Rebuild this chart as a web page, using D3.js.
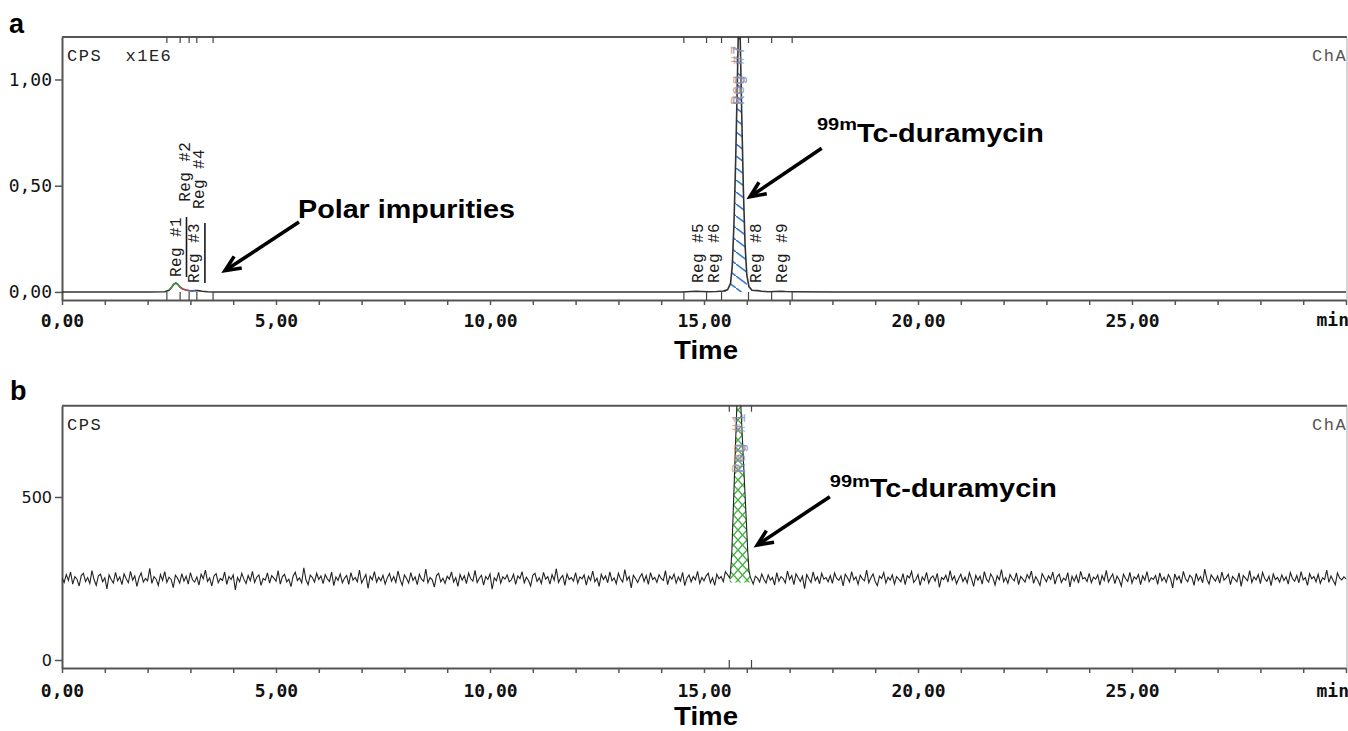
<!DOCTYPE html>
<html lang="en">
<head>
<meta charset="utf-8">
<title>Radio-HPLC chromatograms</title>
<script src="https://d3js.org/d3.v7.min.js"></script>
<style>
  body { margin: 0; background: #fff; }
  svg { display: block; }
</style>
</head>
<body>
<svg width="1348" height="731"></svg>
<script>
// ---- panel a: trace (retention time in min, CPS x1E6) ----
const timeA = [0, 1.0, 2.0, 2.40, 2.50, 2.56, 2.61, 2.66, 2.71, 2.76, 2.82, 2.90, 2.97, 3.05, 3.12, 3.18,
               3.27, 3.40, 3.55, 4.5, 6, 8, 10, 12, 13.5, 14.5, 14.8, 14.95, 15.1, 15.3, 15.45, 15.55,
               15.62, 15.66, 15.70, 15.74, 15.78, 15.81, 15.84, 15.88, 15.92, 15.96, 16.00, 16.05, 16.12,
               16.25, 16.35, 16.5, 16.8, 16.9, 17.1, 18, 20, 22, 24, 26, 28, 30];
const cpsA  = [0, 0, 0, 0.001, 0.008, 0.022, 0.036, 0.042, 0.035, 0.022, 0.014, 0.009, 0.006, 0.005, 0.007, 0.006,
               0.003, 0.001, 0, 0, 0, 0, 0, 0, 0, 0, 0.003, 0.002, 0.001, 0.002, 0.004, 0.010,
               0.04, 0.12, 0.32, 0.62, 1.0, 1.3, 1.25, 0.85, 0.48, 0.22, 0.08, 0.025, 0.008,
               0.006, 0.003, 0.001, 0.003, 0.002, 0.001, 0, 0, 0, 0, 0, 0, 0];

// integration regions, panel a
const regNamesA = ["Reg #1", "Reg #2", "Reg #3", "Reg #4", "Reg #5", "Reg #6", "Reg #7", "Reg #8", "Reg #9"];
const regStartA = [2.45, 2.76, 2.97, 3.15, 14.53, 15.06, 15.41, 16.04, 16.58];
const regEndA   = [2.76, 2.97, 3.15, 3.53, 15.06, 15.41, 16.04, 16.58, 17.06];
const regApexA  = [2.68, 2.90, 3.11, 3.22, 14.88, 15.26, 15.82, 16.23, 16.84];

// ---- panel b: baseline noise (CPS, one reading every 0.05 min from 0 to 30 min) ----
const noiseB = [
  251,238,262,244,270,233,256,248,227,259,266,241,253,235,274,246,229,258,263,240,252,218,261,247,236,269,243,255,231,264,
  249,237,272,245,258,226,253,267,239,250,243,281,235,256,248,229,262,244,271,238,254,247,222,260,251,236,265,242,257,233,
  268,246,239,255,230,263,249,276,241,252,227,258,265,237,250,244,270,232,256,247,261,215,253,240,266,248,235,259,243,272,
  238,254,261,229,250,245,267,236,259,251,242,274,233,256,263,240,248,225,257,269,244,252,237,283,246,231,260,253,239,266,
  247,258,234,262,249,241,270,228,255,244,264,237,251,259,232,268,245,253,240,276,236,249,262,220,257,246,271,239,254,243,
  260,233,252,265,242,256,238,273,247,229,261,250,236,268,244,255,231,263,248,241,279,237,253,246,224,259,266,240,251,235,
  257,248,270,239,253,226,262,245,258,234,267,249,242,275,238,251,260,230,256,247,264,217,252,243,269,236,255,248,261,240,
  246,263,232,258,250,271,237,254,244,227,260,266,241,252,235,269,248,256,233,262,245,280,238,251,259,229,264,247,253,242,
  268,236,255,249,261,230,257,244,273,240,251,226,263,247,258,237,270,243,252,234,266,249,239,277,245,256,221,260,250,238,
  254,265,241,259,232,268,247,253,238,262,250,244,274,231,257,248,264,236,255,242,269,228,251,261,240,256,246,272,235,253,
  243,258,266,237,252,229,263,249,256,240,271,234,250,262,245,225,259,247,267,238,254,244,278,233,257,251,239,264,248,236,
  261,245,253,230,268,242,256,250,236,273,247,259,231,264,252,241,257,219,262,249,238,270,244,255,234,266,248,253,240,259,
  235,267,250,244,258,227,263,253,239,271,246,255,232,260,249,243,276,237,252,264,241,228,257,250,268,236,254,245,261,233,
  256,248,240,265,231,259,252,272,238,247,262,229,255,244,269,236,251,258,242,266,223,253,247,260,239,274,245,257,234,250,
  263,241,254,236,268,249,226,260,245,257,233,271,248,239,264,252,230,258,246,277,240,253,235,262,250,243,267,231,256,248,
  239,262,250,273,235,256,244,229,265,252,240,258,247,270,233,255,263,238,251,245,268,224,257,242,260,236,272,249,253,241,
  266,237,254,248,261,230,259,244,275,239,252,264,234,257,246,227,263,250,241,269,236,255,248,262,231,258,245,271,240,252,
  247,259,232,267,243,254,238,262,250,221,264,246,257,235,272,249,240,260,253,229,266,244,256,237,279,248,233,261,251,242,
  258,236,270,245,252,263,231,256,248,240,267,226,259,251,243,274,238,255,246,262,234,269,250,241,257,228,264,247,253,239,
  261,244,255,233,268,250,242,259,237,271,246,253,229,265,249,256,240,263,235,252,247,276,238,258,244,231,267,252,246,255,
  249];
// panel b: the 99mTc-duramycin peak
const peakTimeB = [15.60, 15.62, 15.65, 15.68, 15.71, 15.74, 15.77, 15.80, 15.83, 15.86, 15.90, 15.94, 15.98, 16.02, 16.05, 16.08];
const peakCpsB  = [252, 268, 330, 445, 560, 675, 790, 880, 870, 780, 670, 560, 450, 340, 275, 255];
const regNameB = "Reg #1", regStartB = 15.59, regEndB = 16.11, regApexB = 15.84;

// axis ticks
const yTicksA = [0, 0.5, 1];
const yTicksB = [0, 500];
const xLabelled = [0, 5, 10, 15, 20, 25];

// ---- layout ----
const svg = d3.select("svg");
const W = 1348, H = 731;
const x = d3.scaleLinear().domain([0, 30]).range([62, 1346]);
const yA = d3.scaleLinear().domain([-0.038, 1.2]).range([300, 37]);
const yB = d3.scaleLinear().domain([-24.5, 780]).range([668, 405.7]);
const plotL = 62, plotR = 1347;
const labelLiftA = [0.070, 0.425, 0.042, 0.390, 0.042, 0.042, 0.880, 0.042, 0.042];
const underlineA = [true, false, true, false, false, false, false, false, false];
const sans = "'Liberation Sans', Arial, sans-serif";
const mono = "'Liberation Mono', monospace";

svg.append("rect").attr("width", W).attr("height", H).attr("fill", "#fff");

const defs = svg.append("defs");
defs.append("pattern").attr("id", "hatchBlue").attr("patternUnits", "userSpaceOnUse")
    .attr("width", 16).attr("height", 12)
  .append("path").attr("d", "M-1,-0.75 L17,12.75").attr("stroke", "#3a78cf").attr("stroke-width", 1.6);
const cross = defs.append("pattern").attr("id", "crossGreen").attr("patternUnits", "userSpaceOnUse")
    .attr("width", 9).attr("height", 10);
cross.append("path").attr("d", "M0,0 L9,10 M9,0 L0,10").attr("stroke", "#45b045").attr("stroke-width", 1.4);

[["clipA", yA], ["clipB", yB]].forEach(([id, y]) => {
  defs.append("clipPath").attr("id", id).append("rect")
      .attr("x", plotL).attr("y", y.range()[1])
      .attr("width", plotR - plotL).attr("height", y.range()[0] - y.range()[1]);
});

const fmt = d => d.toFixed(2).replace(".", ",");
const line = y => d3.line().x(d => x(d[0])).y(d => y(d[1]));

function frame(y) {
  const top = y.range()[1], bottom = y.range()[0];
  svg.append("line").attr("x1", plotL).attr("x2", plotR).attr("y1", top).attr("y2", top)
     .attr("stroke", "#555").attr("stroke-width", 2);
  svg.append("line").attr("x1", plotR).attr("x2", plotR).attr("y1", top).attr("y2", bottom)
     .attr("stroke", "#aaa").attr("stroke-width", 1);

  const gx = svg.append("g").attr("transform", `translate(0,${bottom})`)
    .call(d3.axisBottom(x).tickValues(d3.range(0, 31)).tickSize(5).tickSizeOuter(0).tickPadding(y === yA ? 9 : 11)
      .tickFormat(d => xLabelled.includes(d) ? fmt(d) : ""));
  gx.attr("font-family", "'DejaVu Sans Mono', monospace").attr("font-size", 18).attr("font-weight", "bold");
  gx.select(".domain").attr("stroke", "#555").attr("stroke-width", 2);
  gx.selectAll(".tick line").attr("stroke", "#555").attr("stroke-width", 1.5);
  gx.selectAll(".tick text").attr("fill", "#111");
  gx.append("text").attr("x", 1349).attr("y", y === yA ? 26 : 29).attr("text-anchor", "end")
    .attr("fill", "#111").text("min");

  svg.append("text").attr("x", x(15) + 2).attr("y", bottom + (y === yA ? 59 : 57))
     .attr("text-anchor", "middle").attr("font-family", sans).attr("font-weight", "bold")
     .attr("font-size", 26).attr("textLength", 64).attr("lengthAdjust", "spacingAndGlyphs")
     .attr("fill", "#000").text("Time");

  // CPS caption and channel name
  svg.append("text").attr("x", 67).attr("y", top + 24).attr("font-family", mono).attr("font-size", 17)
     .attr("letter-spacing", 1.5).attr("fill", "#222").style("white-space", "pre")
     .text(y === yA ? "CPS  x1E6" : "CPS");
  svg.append("text").attr("x", 1312).attr("y", top + 24).attr("font-family", mono).attr("font-size", 17)
     .attr("letter-spacing", 1.5).attr("fill", "#555").text("ChA");
}

function rotLabel(t, v, y, text, color, underline) {
  const px = x(t), py = y(v);
  const tx = svg.append("text").attr("transform", `translate(${px},${py}) rotate(-90)`)
    .attr("font-family", mono).attr("font-size", 16).attr("letter-spacing", 0.4)
    .attr("dominant-baseline", "central").attr("fill", color).text(text);
  if (underline) tx.attr("text-decoration", "underline");
  return tx;
}

function arrow(t1, v1, t2, v2, y) {
  const x1 = x(t1), y1 = y(v1), x2 = x(t2), y2 = y(v2);
  const a = Math.atan2(y2 - y1, x2 - x1), L = 17, s = 0.42;
  svg.append("line").attr("x1", x1).attr("y1", y1).attr("x2", x2 - 3 * Math.cos(a)).attr("y2", y2 - 3 * Math.sin(a))
     .attr("stroke", "#000").attr("stroke-width", 3.6);
  svg.append("path")
     .attr("d", `M${x2 - L * Math.cos(a - s)},${y2 - L * Math.sin(a - s)} L${x2},${y2} L${x2 - L * Math.cos(a + s)},${y2 - L * Math.sin(a + s)}`)
     .attr("fill", "none").attr("stroke", "#000").attr("stroke-width", 3.6).attr("stroke-linejoin", "miter");
}

function compound(tSup, vSup, vMain, y) {
  const xs = x(tSup);
  svg.append("text").attr("x", xs).attr("y", y(vSup)).attr("font-family", sans).attr("font-weight", "bold")
     .attr("font-size", 16).attr("textLength", 40).attr("lengthAdjust", "spacingAndGlyphs").text("99m");
  svg.append("text").attr("x", xs + 40).attr("y", y(vMain)).attr("font-family", sans).attr("font-weight", "bold")
     .attr("font-size", 26).attr("textLength", 187).attr("lengthAdjust", "spacingAndGlyphs").text("Tc-duramycin");
}

// ================= panel a =================
svg.append("text").attr("x", 9).attr("y", 33).attr("font-family", sans).attr("font-weight", "bold")
   .attr("font-size", 27).text("a");
frame(yA);

const gyA = svg.append("g").attr("transform", `translate(${plotL},0)`)
  .call(d3.axisLeft(yA).tickValues(yTicksA).tickSize(7).tickSizeOuter(0).tickPadding(3).tickFormat(fmt));
gyA.attr("font-family", "'DejaVu Sans Mono', monospace").attr("font-size", 18);
gyA.select(".domain").attr("stroke", "#555").attr("stroke-width", 2);
gyA.selectAll(".tick line").attr("stroke", "#555").attr("stroke-width", 1.5);
gyA.selectAll(".tick text").attr("fill", "#111");

const traceA = timeA.map((t, i) => [t, cpsA[i]]);
const plotA = svg.append("g").attr("clip-path", "url(#clipA)");

// Reg #7 hatched area
const reg7 = traceA.filter(d => d[0] >= regStartA[6] && d[0] <= regEndA[6]);
plotA.append("path").datum(reg7)
  .attr("d", d3.area().x(d => x(d[0])).y0(yA(0)).y1(d => yA(d[1])))
  .attr("fill", "url(#hatchBlue)");

plotA.append("path").datum(traceA).attr("d", line(yA))
  .attr("fill", "none").attr("stroke", "#333").attr("stroke-width", 1.6);

// coloured outline of the small region peaks
[[0, "#3a9a3a"], [1, "#c85050"], [2, "#3a6fcf"]].forEach(([i, c]) => {
  const seg = traceA.filter(d => d[0] >= regStartA[i] && d[0] <= regEndA[i]);
  plotA.append("path").datum(seg).attr("d", line(yA)).attr("fill", "none")
    .attr("stroke", c).attr("stroke-width", 1.3);
});

// region boundaries
const edgesA = Array.from(new Set(regStartA.concat(regEndA))).sort((a, b) => a - b);
svg.selectAll(".edgeA").data(edgesA).join("line")
  .attr("x1", d => x(d)).attr("x2", d => x(d)).attr("y1", yA(0)).attr("y2", yA.range()[0])
  .attr("stroke", "#444").attr("stroke-width", 1.2);
svg.selectAll(".edgeTopA").data(edgesA).join("line")
  .attr("x1", d => x(d)).attr("x2", d => x(d)).attr("y1", yA.range()[1]).attr("y2", yA.range()[1] + 6)
  .attr("stroke", "#444").attr("stroke-width", 1.2);

regNamesA.forEach((name, i) => {
  if (i === 6) {
    rotLabel(regApexA[i] - 0.02, labelLiftA[i], yA, name, "#d8915e", false).attr("opacity", 0.8);
    rotLabel(regApexA[i] + 0.02, labelLiftA[i], yA, name, "#6b8fd2", false).attr("opacity", 0.8);
  } else {
    rotLabel(regApexA[i], labelLiftA[i], yA, name, "#1a1a1a", underlineA[i]);
  }
});

svg.append("text").attr("x", x(5.514)).attr("y", yA(0.348)).attr("font-family", sans).attr("font-weight", "bold")
   .attr("font-size", 26).attr("textLength", 217).attr("lengthAdjust", "spacingAndGlyphs").text("Polar impurities");
arrow(5.537, 0.329, 3.808, 0.100, yA);
compound(17.64, 0.760, 0.707, yA);
arrow(17.75, 0.676, 16.075, 0.448, yA);

// ================= panel b =================
svg.append("text").attr("x", 10).attr("y", 400).attr("font-family", sans).attr("font-weight", "bold")
   .attr("font-size", 27).text("b");
frame(yB);

const gyB = svg.append("g").attr("transform", `translate(${plotL},0)`)
  .call(d3.axisLeft(yB).tickValues(yTicksB).tickSize(7).tickSizeOuter(0).tickPadding(3).tickFormat(d3.format("d")));
gyB.attr("font-family", "'DejaVu Sans', sans-serif").attr("font-size", 16);
gyB.select(".domain").attr("stroke", "#555").attr("stroke-width", 2);
gyB.selectAll(".tick line").attr("stroke", "#555").attr("stroke-width", 1.5);
gyB.selectAll(".tick text").attr("fill", "#111");

const traceB = noiseB.map((v, i) => [i / 20, v])
  .filter(d => d[0] < 15.55 || d[0] > 16.12)
  .concat(peakTimeB.map((t, i) => [t, peakCpsB[i]]))
  .sort((a, b) => a[0] - b[0]);
const plotB = svg.append("g").attr("clip-path", "url(#clipB)");

const regB = traceB.filter(d => d[0] >= regStartB && d[0] <= regEndB);
plotB.append("path").datum(regB)
  .attr("d", d3.area().x(d => x(d[0])).y0(yB(238)).y1(d => yB(d[1])))
  .attr("fill", "url(#crossGreen)");
plotB.append("path").datum(traceB).attr("d", line(yB))
  .attr("fill", "none").attr("stroke", "#222").attr("stroke-width", 1.1);

[regStartB, regEndB].forEach(t => {
  svg.append("line").attr("x1", x(t)).attr("x2", x(t)).attr("y1", yB(0)).attr("y2", yB.range()[0])
     .attr("stroke", "#444").attr("stroke-width", 1.2);
  svg.append("line").attr("x1", x(t)).attr("x2", x(t)).attr("y1", yB.range()[1]).attr("y2", yB.range()[1] + 6)
     .attr("stroke", "#444").attr("stroke-width", 1.2);
});
rotLabel(regApexB - 0.02, 573.6, yB, regNameB, "#d8915e", false).attr("opacity", 0.75);
rotLabel(regApexB + 0.02, 573.6, yB, regNameB, "#6b8fd2", false).attr("opacity", 0.75);

compound(17.94, 531.6, 500, yB);
arrow(17.94, 500.9, 16.245, 352.8, yB);
</script>
</body>
</html>
